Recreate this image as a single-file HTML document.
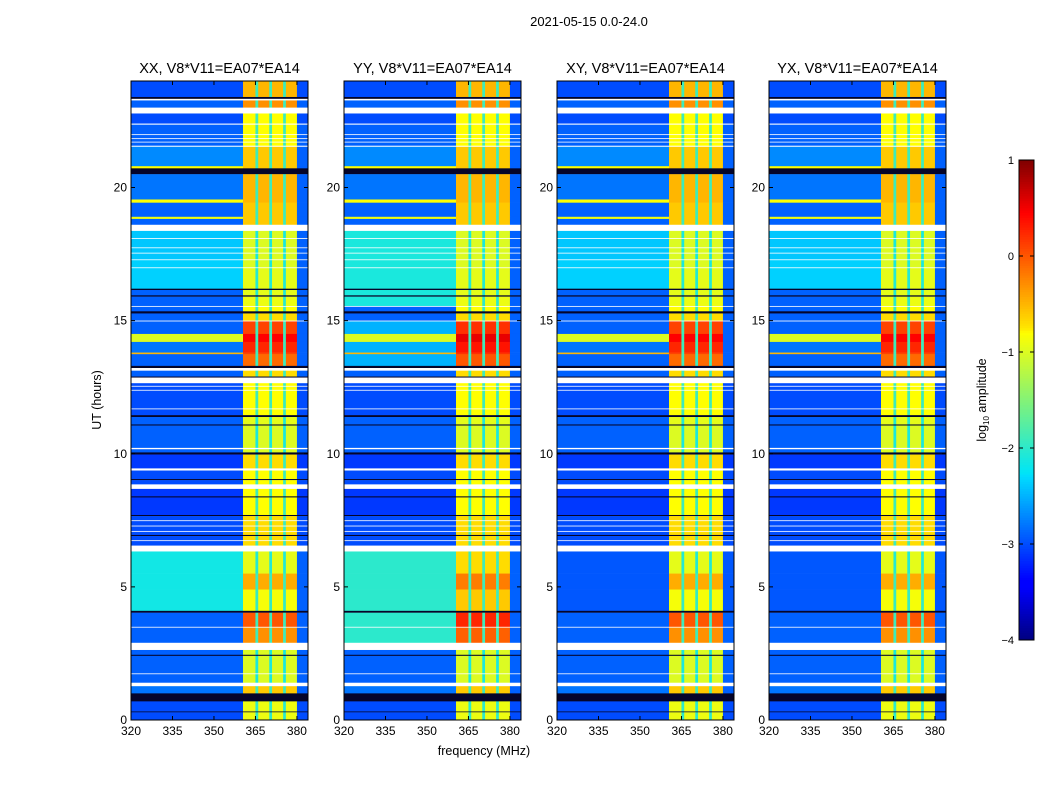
<!DOCTYPE html>
<html><head><meta charset="utf-8">
<style>
body{margin:0;background:#fff;width:1050px;height:800px;overflow:hidden;font-family:"Liberation Sans","DejaVu Sans",sans-serif;}
svg text{font-family:"Liberation Sans","DejaVu Sans",sans-serif;}
</style></head>
<body>
<svg id="fig" width="1050" height="800" viewBox="0 0 1050 800">
<rect x="0" y="0" width="1050" height="800" fill="#fff"/>
<text x="589" y="26" font-size="13" text-anchor="middle">2021-05-15 0.0-24.0</text>
<text x="484" y="755" font-size="12.5" text-anchor="middle">frequency (MHz)</text>
<text x="0" y="0" font-size="12.5" text-anchor="middle" transform="translate(101,400) rotate(-90)">UT (hours)</text>
<g id="panels"></g>
<g id="cbar"></g>
</svg>
<script>
// ---- data ----
const panelTitles = ["XX, V8*V11=EA07*EA14","YY, V8*V11=EA07*EA14","XY, V8*V11=EA07*EA14","YX, V8*V11=EA07*EA14"];
const xTicks = [320,335,350,365,380];
const yTicks = [0,5,10,15,20];
const cbarTicks = [1,0,-1,-2,-3,-4];
const cbarTickLabels = ["1","0","\u22121","\u22122","\u22123","\u22124"];
// frequency segments [f0, f1, kind]
const freqSegs = [[320,360.5,"bg"],[360.5,365,"band"],[365,366,"gap"],[366,370,"band"],[370,371,"gap"],[371,375,"band"],[375,376,"gap"],[376,380,"band"],[380,384,"bg"]];
// time segments [h0, h1, kind, bgLevel, bandLevel]  kind: d=data, w=flagged(white), k=dark
const timeSegs = [
[23.4,24,"d",-3.0,-0.5],[23.33,23.4,"k"],[23.27,23.33,"w"],[23.0,23.27,"d",-2.9,-0.3],[22.78,23.0,"w"],
[22.4,22.78,"d",-3.0,-0.8],[22.36,22.4,"w"],[22.0,22.36,"d",-2.9,-0.8],[21.97,22.0,"w"],[21.85,21.97,"d",-2.9,-0.8],
[21.82,21.85,"w"],[21.72,21.82,"d",-2.9,-0.8],[21.69,21.72,"w"],[21.57,21.69,"d",-2.9,-0.8],[21.53,21.57,"w"],
[20.8,21.53,"d",-2.7,-0.6],[20.72,20.8,"d",-0.8,-0.6],[20.5,20.72,"k"],[19.55,20.5,"d",-2.8,-0.5],[19.43,19.55,"d",-0.8,-0.5],
[18.9,19.43,"d",-2.9,-0.6],[18.82,18.9,"d",-0.9,-0.6],[18.6,18.82,"d",-2.9,-0.6],[18.37,18.6,"w"],
[18.1,18.37,"d",-2.4,-1.0],[18.07,18.1,"w"],[17.75,18.07,"d",-2.4,-1.0],[17.72,17.75,"w"],[17.55,17.72,"d",-2.4,-1.0],
[17.52,17.55,"w"],[17.3,17.52,"d",-2.4,-1.0],[17.27,17.3,"w"],[17.0,17.27,"d",-2.35,-1.0],[16.97,17.0,"w"],
[16.2,16.97,"d",-2.35,-0.95],[16.15,16.2,"k"],[15.95,16.15,"d",-2.9,-0.95],[15.9,15.95,"k"],[15.55,15.9,"d",-2.9,-0.9],
[15.52,15.55,"w"],[15.35,15.52,"d",-2.9,-0.8],[15.27,15.35,"k"],[15.0,15.27,"d",-2.9,-0.7],[14.97,15.0,"w"],
[14.5,14.97,"d",-2.9,0.1],[14.2,14.5,"d",-1.0,0.45],[13.8,14.2,"d",-2.8,0.25],[13.74,13.8,"d",-0.5,0.1],
[13.3,13.74,"d",-2.9,-0.1],[13.22,13.3,"k"],[13.12,13.22,"w"],[12.9,13.12,"d",-2.9,-0.7],[12.86,12.9,"k"],[12.65,12.86,"w"],
[12.55,12.65,"d",-3.0,-0.8],[12.52,12.55,"w"],[12.4,12.52,"d",-3.0,-0.8],[12.37,12.4,"w"],[11.7,12.37,"d",-3.0,-0.8],
[11.67,11.7,"w"],[11.45,11.67,"d",-3.0,-0.8],[11.38,11.45,"k"],[11.1,11.38,"d",-2.9,-0.95],[11.06,11.1,"k"],
[10.22,11.06,"d",-2.9,-1.0],[10.17,10.22,"w"],[10.05,10.17,"d",-2.9,-1.0],[9.97,10.05,"k"],[9.45,9.97,"d",-3.1,-0.7],
[9.37,9.45,"w"],[9.05,9.37,"d",-3.0,-0.8],[9.01,9.05,"k"],[8.85,9.01,"d",-3.0,-0.8],[8.68,8.85,"w"],
[8.4,8.68,"d",-3.1,-0.8],[8.36,8.4,"k"],[7.7,8.36,"d",-3.1,-0.8],[7.66,7.7,"k"],[7.5,7.66,"d",-3.0,-0.7],
[7.47,7.5,"w"],[7.3,7.47,"d",-3.0,-0.7],[7.27,7.3,"w"],[7.1,7.27,"d",-3.0,-0.7],[7.07,7.1,"w"],[6.95,7.07,"d",-3.0,-0.7],
[6.91,6.95,"k"],[6.75,6.91,"d",-3.0,-0.7],[6.72,6.75,"w"],[6.55,6.72,"d",-3.0,-0.7],[6.33,6.55,"w"],
[5.5,6.33,"d",-2.15,-0.95],[4.9,5.5,"d",-2.15,-0.45],[4.1,4.9,"d",-2.15,-0.85],[4.03,4.1,"k"],[3.5,4.03,"d",-2.9,0.0],
[3.47,3.5,"w"],[2.9,3.47,"d",-2.9,-0.3],[2.63,2.9,"w"],[2.45,2.63,"d",-2.9,-1.0],[2.41,2.45,"k"],[1.75,2.41,"d",-2.9,-1.0],
[1.72,1.75,"w"],[1.4,1.72,"d",-2.9,-1.0],[1.27,1.4,"w"],[1.0,1.27,"d",-2.8,-0.6],[0.7,1.0,"k"],[0.32,0.7,"d",-3.0,-0.9],
[0.29,0.32,"k"],[0,0.29,"d",-3.0,-0.9]];
// per-panel overrides [panel, h0, h1, bgLevel, bandShift]
const panelOverrides = [[1,15.5,18.37,-2.1,0.0],[1,2.9,6.33,-2.0,0.25],[2,4.1,6.33,-2.95,0.0],[3,4.1,6.33,-2.95,0.0],[1,13.3,15.0,-2.5,0.1]];

// ---- layout ----
const panelLeft=[131,344,557,769], PW=177, PT=81, PB=720;
const F0=320,F1=384,H0=0,H1=24;
const xs=(p,f)=>panelLeft[p]+(f-F0)/(F1-F0)*PW;
const ys=h=>PB-(h-H0)/(H1-H0)*(PB-PT);
const NS="http://www.w3.org/2000/svg";
function jet(v){let t=(v+4)/5;t=Math.max(0,Math.min(1,t));
 const st=[[0,0,0,127],[0.11,0,0,255],[0.125,0,0,255],[0.34,0,219,255],[0.35,0,229,246],[0.64,255,255,0],[0.65,255,230,0],[0.89,255,0,0],[1,127,0,0]];
 for(let i=1;i<st.length;i++){if(t<=st[i][0]){const a=st[i-1],b=st[i],u=(t-a[0])/(b[0]-a[0]||1);
  return `rgb(${Math.round(a[1]+u*(b[1]-a[1]))},${Math.round(a[2]+u*(b[2]-a[2]))},${Math.round(a[3]+u*(b[3]-a[3]))})`;}}
 return "rgb(127,0,0)";}
function mk(tag,attrs,parent){const e=document.createElementNS(NS,tag);for(const k in attrs)e.setAttribute(k,attrs[k]);parent.appendChild(e);return e;}
const panels=document.getElementById("panels");
for(let p=0;p<4;p++){
 const g=mk("g",{},panels);
 
 
 for(const s of timeSegs){
  const y0=ys(s[1]),y1=ys(s[0]);
  if(s[2]!=="d"){
   const r=mk("rect",{x:panelLeft[p],y:y0,width:PW,height:y1-y0+0.2,fill:s[2]==="w"?"#fff":"#05052a"},g);
   
   
   continue;}
  let bg=s[3],band=s[4];
  for(const o of panelOverrides){if(o[0]===p&&s[0]>=o[1]-1e-6&&s[1]<=o[2]+1e-6){if(bg<-1.5)bg=o[3];band+=o[4];}}
  for(const f of freqSegs){
   let v=f[2]==="bg"?bg:(f[2]==="band"?band:Math.min(band-1.1,-1.9));
   if(f[2]==="bg"&&f[0]>=380)v=Math.min(bg,-2.9);
   const x0=xs(p,f[0]),x1=xs(p,f[1]);
   const r=mk("rect",{x:x0,y:y0,width:x1-x0+0.3,height:y1-y0+0.3,fill:jet(v)},g);
   
   
  }
 }
 const fr=mk("rect",{x:panelLeft[p],y:PT,width:PW,height:PB-PT,fill:"none",stroke:"#000","stroke-width":1},g);
 
 
 const t=mk("text",{x:panelLeft[p]+PW/2,y:73,"font-size":14.5,"text-anchor":"middle"},g);t.textContent=panelTitles[p];
 
 
 for(const f of xTicks){const x=xs(p,f);
  mk("line",{x1:x,x2:x,y1:PB,y2:PB-4,stroke:"#000"},g);mk("line",{x1:x,x2:x,y1:PT,y2:PT+4,stroke:"#000"},g);
  const l=mk("text",{x:x,y:PB+15,"font-size":12,"text-anchor":"middle"},g);l.textContent=f;
  
  }
 for(const h of yTicks){const y=ys(h);
  mk("line",{x1:panelLeft[p],x2:panelLeft[p]+4,y1:y,y2:y,stroke:"#000"},g);mk("line",{x1:panelLeft[p]+PW,x2:panelLeft[p]+PW-4,y1:y,y2:y,stroke:"#000"},g);
  const l=mk("text",{x:panelLeft[p]-4,y:y+4,"font-size":12,"text-anchor":"end"},g);l.textContent=h;
  
  }
}
// colorbar
const cb=document.getElementById("cbar");
const CX=1019,CW=15,CT=160,CB=640;
const cv=v=>CB-(v+4)/5*(CB-CT);
for(let i=0;i<200;i++){const v=-4+5*(i+0.5)/200;
 mk("rect",{x:CX,y:cv(v)-(CB-CT)/400-0.3,width:CW,height:(CB-CT)/200+0.6,fill:jet(v)},cb);}
mk("rect",{x:CX,y:CT,width:CW,height:CB-CT,fill:"none",stroke:"#000"},cb);
cbarTicks.forEach((v,i)=>{const y=cv(v);
 mk("line",{x1:CX,x2:CX+4,y1:y,y2:y,stroke:"#000"},cb);mk("line",{x1:CX+CW,x2:CX+CW-4,y1:y,y2:y,stroke:"#000"},cb);
 const l=mk("text",{x:CX-5,y:y+4,"font-size":11,"text-anchor":"end"},cb);l.textContent=cbarTickLabels[i];
 
 });
const cl=mk("text",{transform:"translate(986,400) rotate(-90)","font-size":12.5,"text-anchor":"middle"},cb);
cl.innerHTML='log<tspan font-size="8" dy="3">10</tspan><tspan dy="-3"> amplitude</tspan>';


</script>
</body></html>
